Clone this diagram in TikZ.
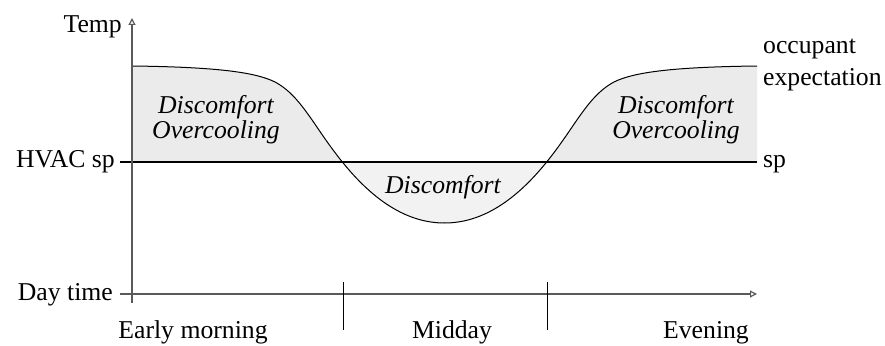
\documentclass[tikz,border=0pt]{standalone}
\usepackage{fontspec}
\setmainfont{Liberation Serif}
\usetikzlibrary{arrows.meta}
\begin{document}
\begin{tikzpicture}[x=1pt,y=-1pt,
  lbl/.style={inner sep=0pt,font=\fontsize{25.7}{26}\selectfont},
  ilbl/.style={inner sep=0pt,font=\fontsize{25.7}{23}\selectfont\itshape,align=center},
  axis/.style={line width=1.2pt,draw=black!65,-{Triangle[open,length=7pt,width=7pt]}},
  tick/.style={line width=1pt,draw=black},
  spline/.style={line width=1.2pt,draw=black},
  curve/.style={line width=1pt,draw=black},
  upper/.style={fill=black!8},
  lower/.style={fill=black!5}]
\useasboundingbox (0,0) rectangle (885,345);
\def\curvepath{(132,66) .. controls (215,67) and (255,72) .. (275,82)
  .. controls (290,90) and (300,103) .. (310,117)
  .. controls (330,145) and (375,223) .. (444.5,223)
  .. controls (514,223) and (559,145) .. (579,117)
  .. controls (589,103) and (599,90) .. (614,82)
  .. controls (634,72) and (674,67) .. (757,66)}
% coordinates
\coordinate (yb) at (132,303);
\coordinate (yt) at (132,18);
\coordinate (xl) at (120,294);
\coordinate (xr) at (757,294);
\coordinate (spl) at (120,162);
\coordinate (spr) at (757,162);
\coordinate (t1a) at (343,282);
\coordinate (t1b) at (343,330);
\coordinate (t2a) at (547,282);
\coordinate (t2b) at (547,330);
% fills
\begin{scope}
\clip (0,0) rectangle (885,162);
\fill[upper] \curvepath -- (757,162) -- (132,162) -- cycle;
\end{scope}
\begin{scope}
\clip (0,162) rectangle (885,345);
\fill[lower] \curvepath -- (757,162) -- (132,162) -- cycle;
\end{scope}
% lines
\draw[curve] \curvepath;
\draw[spline] (spl) -- (spr);
\draw[axis] (yb) -- (yt);
\draw[axis] (xl) -- (xr);
\draw[tick] (t1a) -- (t1b);
\draw[tick] (t2a) -- (t2b);
% labels
\node[lbl,anchor=base east] (temp) at (122,33) {Temp};
\node[lbl,anchor=base east] (hvac) at (115,167) {HVAC sp};
\node[lbl,anchor=base east] (day) at (113,300) {Day time};
\node[lbl,anchor=base] (early) at (193,338) {Early morning};
\node[lbl,anchor=base] (mid) at (452,338) {Midday};
\node[lbl,anchor=base] (eve) at (706,338) {Evening};
\node[lbl,anchor=base west] (sp) at (763,167) {sp};
\node[lbl,anchor=base west,align=left,font=\fontsize{25.7}{32}\selectfont] (occ) at (763,85) {occupant\\expectation};
\node[ilbl,anchor=base] (dl) at (216,138) {Discomfort\\Overcooling};
\node[ilbl,anchor=base] (dr) at (676,138) {Discomfort\\Overcooling};
\node[ilbl,anchor=base] (dm) at (443,193) {Discomfort};
\end{tikzpicture}
\end{document}
